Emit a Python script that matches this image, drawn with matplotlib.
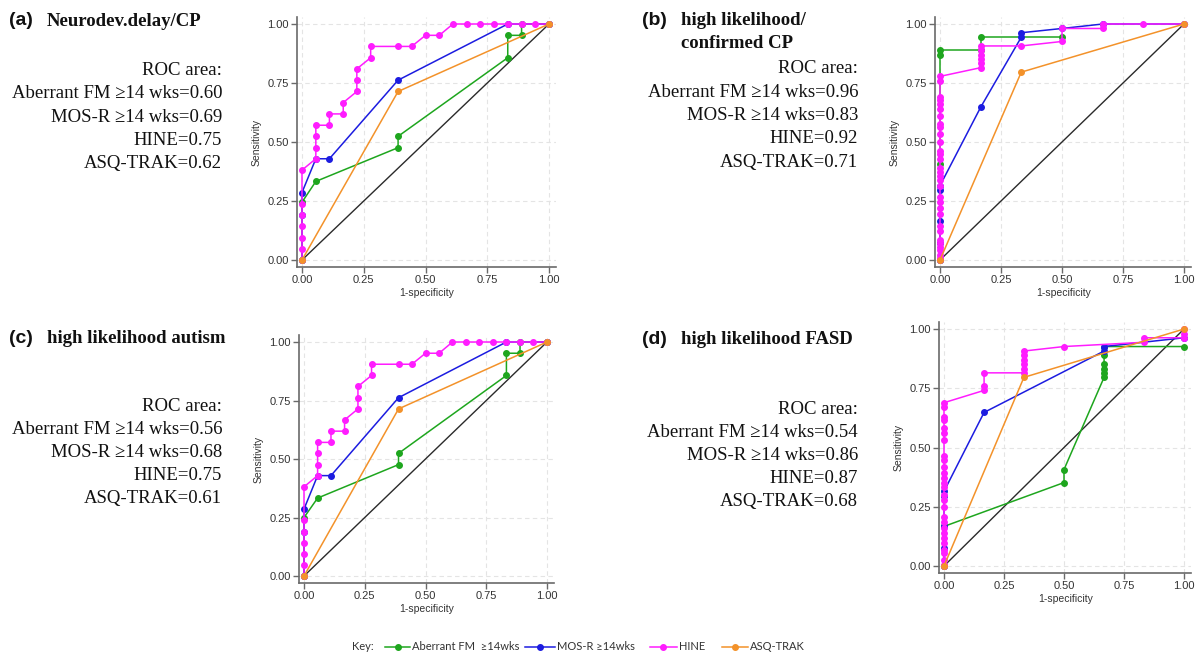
import matplotlib
matplotlib.use("Agg")
import matplotlib.pyplot as plt
from matplotlib.lines import Line2D
from matplotlib.ticker import FormatStrFormatter

# ---------------- data ----------------
series_names = ["Aberrant FM  \u226514wks", "MOS-R \u226514wks", "HINE", "ASQ-TRAK"]
series_colors = ["#1ea61e", "#1c1ce0", "#ff1cff", "#f3922a"]
tick_vals = [0.0, 0.25, 0.5, 0.75, 1.0]

# panel (a) Neurodev.delay/CP
a_fm_x = [0, 0, 0.056, 0.389, 0.389, 0.833, 0.833, 0.889, 0.889, 1.0]
a_fm_y = [0, 0.245, 0.333, 0.476, 0.524, 0.857, 0.952, 0.952, 1.0, 1.0]
a_mos_x = [0, 0, 0, 0.056, 0.111, 0.389, 0.833, 1.0]
a_mos_y = [0, 0.190, 0.286, 0.429, 0.429, 0.762, 1.0, 1.0]
a_hine_x = [0, 0, 0, 0, 0, 0, 0, 0.056, 0.056, 0.056, 0.056, 0.111, 0.111, 0.167, 0.167,
            0.222, 0.222, 0.222, 0.278, 0.278, 0.389, 0.444, 0.5, 0.556, 0.611, 0.667,
            0.722, 0.778, 0.833, 0.889, 0.944, 1.0]
a_hine_y = [0, 0.048, 0.095, 0.143, 0.190, 0.238, 0.381, 0.429, 0.476, 0.524, 0.571, 0.571,
            0.619, 0.619, 0.667, 0.714, 0.762, 0.810, 0.857, 0.905, 0.905, 0.905, 0.952,
            0.952, 1.0, 1.0, 1.0, 1.0, 1.0, 1.0, 1.0, 1.0]
a_asq_x = [0, 0.389, 1.0]
a_asq_y = [0, 0.714, 1.0]
a_auc = ["0.60", "0.69", "0.75", "0.62"]

# panel (b) high likelihood / confirmed CP
b_fm_x = [0, 0, 0, 0, 0.167, 0.167, 0.5]
b_fm_y = [0, 0.407, 0.870, 0.889, 0.889, 0.944, 0.944]
b_mos_x = [0, 0, 0, 0, 0, 0.167, 0.333, 0.333, 0.5, 0.667, 1.0]
b_mos_y = [0, 0.074, 0.167, 0.296, 0.315, 0.648, 0.944, 0.963, 0.981, 1.0, 1.0]
b_hine_x = [0] * 32 + [0.167] * 6 + [0.333, 0.5, 0.5, 0.667, 0.667, 0.833, 1.0]
b_hine_y = [0, 0.007, 0.021, 0.042, 0.054, 0.071, 0.085, 0.124, 0.144, 0.194, 0.222, 0.247,
            0.268, 0.314, 0.339, 0.356, 0.374, 0.388, 0.427, 0.449, 0.463, 0.501, 0.534,
            0.562, 0.576, 0.610, 0.638, 0.661, 0.678, 0.689, 0.759, 0.778,
            0.815, 0.833, 0.852, 0.870, 0.889, 0.907,
            0.907, 0.926, 0.981, 0.981, 1.0, 1.0, 1.0]
b_asq_x = [0, 0.333, 1.0]
b_asq_y = [0, 0.796, 1.0]
b_auc = ["0.96", "0.83", "0.92", "0.71"]

# panel (c) high likelihood autism
c_fm_x = [0, 0, 0.056, 0.389, 0.389, 0.833, 0.833, 0.889, 0.889, 1.0]
c_fm_y = [0, 0.25, 0.333, 0.476, 0.524, 0.857, 0.952, 0.952, 1.0, 1.0]
c_mos_x = [0, 0, 0, 0.056, 0.111, 0.389, 0.833, 1.0]
c_mos_y = [0, 0.190, 0.286, 0.429, 0.429, 0.762, 1.0, 1.0]
c_hine_x = list(a_hine_x)
c_hine_y = list(a_hine_y)
c_asq_x = [0, 0.389, 1.0]
c_asq_y = [0, 0.714, 1.0]
c_auc = ["0.56", "0.68", "0.75", "0.61"]

# panel (d) high likelihood FASD
d_fm_x = [0, 0, 0.5, 0.5, 0.667, 0.667, 0.667, 0.667, 0.667, 0.667, 1.0]
d_fm_y = [0, 0.167, 0.352, 0.407, 0.796, 0.815, 0.833, 0.852, 0.889, 0.926, 0.926]
d_mos_x = [0, 0, 0, 0, 0, 0.167, 0.667, 0.667, 1.0]
d_mos_y = [0, 0.074, 0.167, 0.296, 0.315, 0.648, 0.907, 0.926, 0.963]
d_hine_x = [0] * 28 + [0.167, 0.167, 0.167, 0.333, 0.333, 0.333, 0.333, 0.333, 0.333,
                       0.5, 0.833, 0.833, 1.0, 1.0, 1.0]
d_hine_y = [0, 0.004, 0.025, 0.054, 0.068, 0.096, 0.117, 0.138, 0.159, 0.187, 0.208, 0.250,
            0.278, 0.300, 0.335, 0.349, 0.370, 0.391, 0.419, 0.447, 0.464, 0.532, 0.560,
            0.581, 0.616, 0.627, 0.670, 0.689,
            0.741, 0.759, 0.815, 0.815, 0.833, 0.852, 0.870, 0.889, 0.907,
            0.926, 0.944, 0.963, 0.963, 0.981, 1.0]
d_asq_x = [0, 0.333, 1.0]
d_asq_y = [0, 0.796, 1.0]
d_auc = ["0.54", "0.86", "0.87", "0.68"]

auc_labels = ["Aberrant FM \u226514 wks=", "MOS-R \u226514 wks=", "HINE=", "ASQ-TRAK="]

# ---------------- figure ----------------
W, H = 1200, 659
fig = plt.figure(figsize=(12, 6.59), dpi=100)
fig.patch.set_facecolor("white")

XMIN, XMAX, YMIN, YMAX = -0.02, 1.03, -0.03, 1.03
AX_GRAY = "#6a6a6a"


def make_ax(x0, x1, y1, y0):
    sx = x1 - x0
    sy = y0 - y1
    left = x0 + XMIN * sx
    right = x0 + XMAX * sx
    top = y1 - (YMAX - 1) * sy
    bottom = y0 - YMIN * sy
    ax = fig.add_axes([left / W, 1 - bottom / H, (right - left) / W, (bottom - top) / H])
    ax.set_xlim(XMIN, XMAX)
    ax.set_ylim(YMIN, YMAX)
    for s in ["top", "right"]:
        ax.spines[s].set_visible(False)
    for s in ["left", "bottom"]:
        ax.spines[s].set_color(AX_GRAY)
        ax.spines[s].set_linewidth(1.2)
    ax.set_xticks(tick_vals)
    ax.set_yticks(tick_vals)
    ax.xaxis.set_major_formatter(FormatStrFormatter("%.2f"))
    ax.yaxis.set_major_formatter(FormatStrFormatter("%.2f"))
    ax.tick_params(direction="out", length=4, width=1, color=AX_GRAY,
                   labelsize=8, labelcolor="#333333", pad=2)
    for lab in ax.get_xticklabels() + ax.get_yticklabels():
        lab.set_family("Liberation Sans")
    ax.grid(True, color="#e4e4e4", linestyle=(0, (4, 3)), linewidth=0.8)
    ax.set_axisbelow(True)
    ax.set_xlabel("1-specificity", fontsize=7.5, family="Liberation Sans",
                  color="#333333", labelpad=2)
    ax.set_ylabel("Sensitivity", fontsize=7.5, family="Liberation Sans",
                  color="#333333", labelpad=4)
    return ax


def draw_panel(ax, xs_list, ys_list):
    ax.plot([0, 1], [0, 1], color="#2a2a2a", lw=1.0, zorder=2)
    for xs, ys, col in zip(xs_list, ys_list, series_colors):
        ax.plot(xs, ys, color=col, lw=1.1, marker="o", ms=4.0, mec=col, mfc=col,
                zorder=3, clip_on=False)


panels = [
    ((302, 549, 24, 260), [a_fm_x, a_mos_x, a_hine_x, a_asq_x], [a_fm_y, a_mos_y, a_hine_y, a_asq_y]),
    ((940, 1184, 24, 260), [b_fm_x, b_mos_x, b_hine_x, b_asq_x], [b_fm_y, b_mos_y, b_hine_y, b_asq_y]),
    ((304, 547, 342, 576), [c_fm_x, c_mos_x, c_hine_x, c_asq_x], [c_fm_y, c_mos_y, c_hine_y, c_asq_y]),
    ((944, 1184, 329, 566), [d_fm_x, d_mos_x, d_hine_x, d_asq_x], [d_fm_y, d_mos_y, d_hine_y, d_asq_y]),
]
for geom, xs_list, ys_list in panels:
    ax = make_ax(*geom)
    draw_panel(ax, xs_list, ys_list)


def ftxt(xpx, ypx, s, **kw):
    fig.text(xpx / W, 1 - ypx / H, s, va="baseline", **kw)


SERIF = ["Liberation Serif", "DejaVu Serif"]
TITLE_KW = dict(fontsize=13.5, fontweight="bold", family=SERIF, color="#111111")
TAG_KW = dict(fontsize=14, fontweight="bold", family="Liberation Sans", color="#111111")
BODY_KW = dict(fontsize=13.5, family=SERIF, color="#111111", ha="right")

# panel titles
ftxt(9, 25, "(a)", **TAG_KW)
ftxt(47, 26, "Neurodev.delay/CP", **TITLE_KW)
ftxt(642, 25, "(b)", **TAG_KW)
ftxt(681, 25, "high likelihood/", **TITLE_KW)
ftxt(681, 48, "confirmed CP", **TITLE_KW)
ftxt(9, 343, "(c)", **TAG_KW)
ftxt(47, 343, "high likelihood autism", **TITLE_KW)
ftxt(642, 344, "(d)", **TAG_KW)
ftxt(681, 344, "high likelihood FASD", **TITLE_KW)


def auc_block(xr, ys, aucs):
    ftxt(xr, ys[0], "ROC area:", **BODY_KW)
    for lab, v, y in zip(auc_labels, aucs, ys[1:]):
        ftxt(xr, y, lab + v, **BODY_KW)


auc_block(222, [75, 98, 121.5, 145, 168], a_auc)
auc_block(858, [73, 97, 120, 143, 167], b_auc)
auc_block(222, [411, 434, 457, 480, 503], c_auc)
auc_block(858, [414, 437, 460, 483, 506], d_auc)

# key / legend
LEG_Y = 647
LEG_KW = dict(fontsize=8.0, family=["Lato", "DejaVu Sans"], color="#333333", va="center")
fig.text(352 / W, 1 - LEG_Y / H, "Key:", **LEG_KW)
leg_samples = [(385, 410, 412), (525, 555, 557), (650, 677, 679), (722, 748, 750)]
for (x0, x1, xt), name, col in zip(leg_samples, series_names, series_colors):
    yy = 1 - LEG_Y / H
    fig.add_artist(Line2D([x0 / W, (x0 + x1) / 2 / W, x1 / W], [yy, yy, yy],
                          transform=fig.transFigure, color=col, lw=1.1,
                          marker="o", ms=4, markevery=[1], mfc=col, mec=col))
    fig.text(xt / W, yy, name, **LEG_KW)

fig.savefig("out.png", dpi=100, facecolor="white")
